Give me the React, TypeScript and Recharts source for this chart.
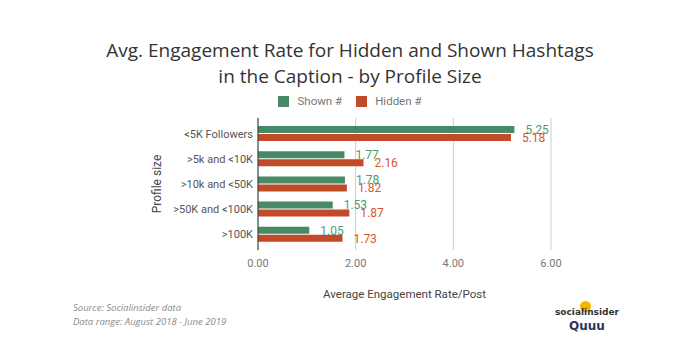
import React from 'react';
import { BarChart, Bar, XAxis, YAxis, CartesianGrid, LabelList } from 'recharts';

const categories = ['<5K Followers', '>5k and <10K', '>10k and <50K', '>50K and <100K', '>100K'];
const shown = [5.25, 1.77, 1.78, 1.53, 1.05];
const hidden = [5.18, 2.16, 1.82, 1.87, 1.73];
const xTicks = [0, 2, 4, 6];

const GREEN = '#468a66';
const RED = '#c24a28';
const FONT = 'Roboto, "Noto Sans", sans-serif';

const data = categories.map((c, i) => ({ name: c, shown: shown[i], hidden: hidden[i] }));

const legendItems = [
  { label: 'Shown #', color: GREEN },
  { label: 'Hidden #', color: RED },
];

export default function App() {
  return (
    <div style={{ position: 'absolute', left: 0, top: 0, width: 700, height: 350, background: '#fff', fontFamily: FONT }}>
      <div
        style={{
          position: 'absolute',
          top: 37,
          left: 0,
          width: 700,
          textAlign: 'center',
          fontFamily: '"Open Sans", sans-serif',
          fontSize: 19,
          lineHeight: '26px',
          color: '#333',
        }}
      >
        Avg. Engagement Rate for Hidden and Shown Hashtags
        <br />
        in the Caption - by Profile Size
      </div>

      <div style={{ position: 'absolute', top: 95, left: 0, width: 700, display: 'flex', justifyContent: 'center', fontSize: 11.5, color: '#777', lineHeight: '13px' }}>
        {legendItems.map((it) => (
          <div key={it.label} style={{ display: 'flex', alignItems: 'center', margin: '0 7px' }}>
            <span style={{ display: 'inline-block', width: 11, height: 11, background: it.color, marginRight: 8 }} />
            {it.label}
          </div>
        ))}
      </div>

      <BarChart
        width={700}
        height={350}
        data={data}
        layout="vertical"
        margin={{ top: 118, right: 149, bottom: 60, left: 140 }}
        barCategoryGap="22%"
        barGap={1}
        style={{ position: 'absolute', left: 0, top: 0 }}
      >
        <CartesianGrid horizontal={false} stroke="#cccccc" />
        <XAxis
          type="number"
          domain={[0, 6]}
          ticks={xTicks}
          tickFormatter={(v) => v.toFixed(2)}
          axisLine={false}
          tickLine={false}
          tickSize={0}
          tick={{ fontSize: 11, fill: '#777', fontFamily: FONT }}
          tickMargin={9}
          height={40}
          label={{ value: 'Average Engagement Rate/Post', position: 'bottom', offset: 0, fill: '#444', fontSize: 11.5, fontFamily: FONT }}
        />
        <YAxis
          type="category"
          dataKey="name"
          width={118}
          axisLine={{ stroke: '#333' }}
          tickLine={false}
          tickSize={0}
          padding={{ top: 3, bottom: 3 }}
          tick={{ fontSize: 11, fill: '#555', fontFamily: FONT }}
          tickMargin={5}
          label={{
            value: 'Profile size',
            angle: -90,
            position: 'insideLeft',
            offset: 17,
            style: { textAnchor: 'middle', fill: '#444', fontSize: 12, fontFamily: FONT },
          }}
        />
        <Bar dataKey="shown" name="Shown #" fill={GREEN} barSize={7} isAnimationActive={false}>
          <LabelList dataKey="shown" position="right" offset={11} fill="#4f9a72" fontSize={12} fontFamily={FONT} />
        </Bar>
        <Bar dataKey="hidden" name="Hidden #" fill={RED} barSize={7} isAnimationActive={false}>
          <LabelList dataKey="hidden" position="right" offset={11} fill="#d6562e" fontSize={12} fontFamily={FONT} />
        </Bar>
      </BarChart>

      <div style={{ position: 'absolute', left: 73, top: 301, fontSize: 9.5, lineHeight: '14px', fontStyle: 'italic', color: '#8a8a8a', fontFamily: '"Open Sans", sans-serif' }}>
        Source: Socialinsider data
        <br />
        Data range: August 2018 - June 2019
      </div>

      <div style={{ position: 'absolute', left: 553, top: 306, width: 68, textAlign: 'center', fontFamily: '"DejaVu Sans", sans-serif', fontWeight: 'bold', color: '#333' }}>
        <div style={{ position: 'absolute', left: 27, top: -5, width: 11, height: 11, borderRadius: 6, background: '#f5b400' }} />
        <div style={{ position: 'relative', fontSize: 9, lineHeight: '13px' }}>socialinsider</div>
        <div style={{ fontSize: 12, lineHeight: '15px', color: '#2a3560' }}>Quuu</div>
      </div>
    </div>
  );
}
